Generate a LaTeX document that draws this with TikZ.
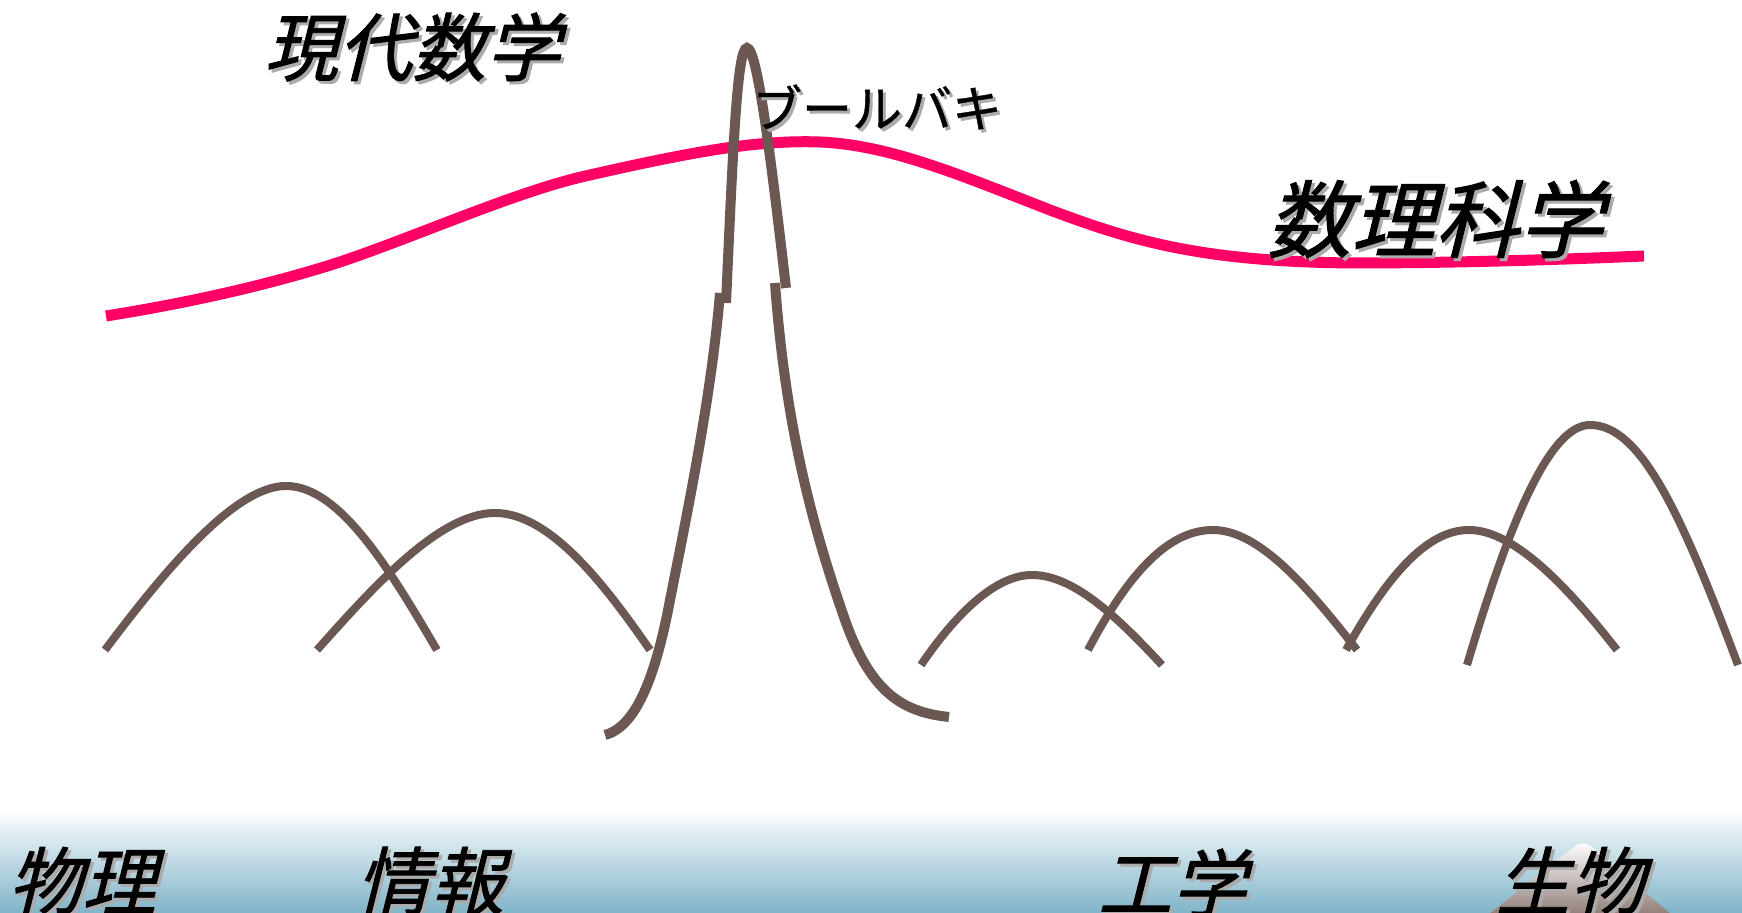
\documentclass[tikz,border=0pt]{standalone}
\usepackage{fontspec}
\newfontfamily\jpit[FakeSlant=0.25,FakeBold=1.2]{Noto Sans CJK JP}
\newfontfamily\jpup[FakeBold=0.8]{Noto Sans CJK JP}
\definecolor{archc}{HTML}{6B5853}
\definecolor{pinkc}{HTML}{FF0066}
\definecolor{bandc}{HTML}{80B4C9}
\definecolor{mtnc}{HTML}{907C77}
\definecolor{shdc}{HTML}{ABABAB}
\tikzset{
  arch/.style={draw=archc, line width=4pt},
  bour/.style={draw=archc, line width=5pt},
  pinkline/.style={draw=pinkc, line width=5.5pt},
  lbl/.style={inner sep=0pt, outer sep=0pt, text=black},
  shd/.style={inner sep=0pt, outer sep=0pt, text=shdc},
  titlefont/.style={font=\jpit\fontsize{37pt}{40pt}\selectfont},
  mathfont/.style={font=\jpit\fontsize{42pt}{45pt}\selectfont},
  bourfont/.style={font=\jpup\fontsize{25pt}{28pt}\selectfont},
  fieldfont/.style={font=\jpit\fontsize{37pt}{40pt}\selectfont}
}
\begin{document}
\begin{tikzpicture}
\useasboundingbox (0,0) rectangle (871pt,456.5pt);
\fill[white] (0,0) rectangle (871pt,456.5pt);
% bottom band
\shade[top color=white, bottom color=bandc] (0pt,0pt) rectangle (871pt,52pt);
% mountain
\shade[top color=white, bottom color=mtnc] (744pt,-1pt) -- (787pt,33pt)
  .. controls (790pt,35.5pt) and (793pt,35.5pt) .. (796pt,33pt) -- (836pt,-1pt) -- cycle;
\begin{scope}[shift={(0pt,456.5pt)}, x=0.5pt, y=-0.5pt]
  % pink curve
  \draw[pinkline] (106,316) .. controls (220,298) and (300,275) .. (340,262)
    .. controls (420,235) and (520,190) .. (590,175)
    .. controls (700,150) and (760,140) .. (820,142)
    .. controls (890,145) and (960,175) .. (1050,210)
    .. controls (1130,240) and (1200,262) .. (1355,263)
    .. controls (1450,263) and (1550,260) .. (1644,256);
  % left arches
  \draw[arch] (105,650) .. controls (165,570) and (235,486) .. (286,486)
    .. controls (340,486) and (390,570) .. (437,650);
  \draw[arch] (317,650) .. controls (375,585) and (440,513) .. (495,513)
    .. controls (550,513) and (605,585) .. (650,650);
  % Bourbaki peak
  \draw[bour] (605,735) .. controls (635,727) and (655,680) .. (670,600)
    .. controls (690,500) and (712,390) .. (720,293);
  \draw[bour] (726,303) .. controls (733,150) and (737,48) .. (747,48)
    .. controls (757,48) and (770,150) .. (786,288);
  \draw[bour] (775,283) .. controls (785,420) and (810,520) .. (845,620)
    .. controls (870,690) and (900,712) .. (949,717);
  % right arches
  \draw[arch] (921,665) .. controls (955,615) and (995,575) .. (1032,575)
    .. controls (1075,575) and (1120,620) .. (1162,665);
  \draw[arch] (1088,650) .. controls (1125,580) and (1165,530) .. (1213,530)
    .. controls (1260,530) and (1310,590) .. (1357,650);
  \draw[arch] (1346,650) .. controls (1385,580) and (1425,530) .. (1469,530)
    .. controls (1515,530) and (1570,590) .. (1617,650);
  \draw[arch] (1467,665) .. controls (1510,520) and (1550,425) .. (1590,425)
    .. controls (1640,425) and (1680,510) .. (1738,665);
  % texts
  \node[shd, titlefont] (ts) at (415,50) {現代数学};
  \node[lbl, titlefont] (t) at (412,47) {現代数学};
  \node[shd, bourfont] (bs) at (880,110) {ブールバキ};
  \node[lbl, bourfont] (b) at (877,107) {ブールバキ};
  \node[shd, mathfont] (ms) at (1438,222) {数理科学};
  \node[lbl, mathfont] (m) at (1435,219) {数理科学};
  \node[shd, fieldfont] (f1s) at (85,884) {物理};
  \node[lbl, fieldfont] (f1) at (82,881) {物理};
  \node[shd, fieldfont] (f2s) at (433,884) {情報};
  \node[lbl, fieldfont] (f2) at (430,881) {情報};
  \node[shd, fieldfont] (f3s) at (1175,886) {工学};
  \node[lbl, fieldfont] (f3) at (1172,883) {工学};
  \node[shd, fieldfont] (f4s) at (1573,884) {生物};
  \node[lbl, fieldfont] (f4) at (1570,881) {生物};
\end{scope}
\end{tikzpicture}
\end{document}
